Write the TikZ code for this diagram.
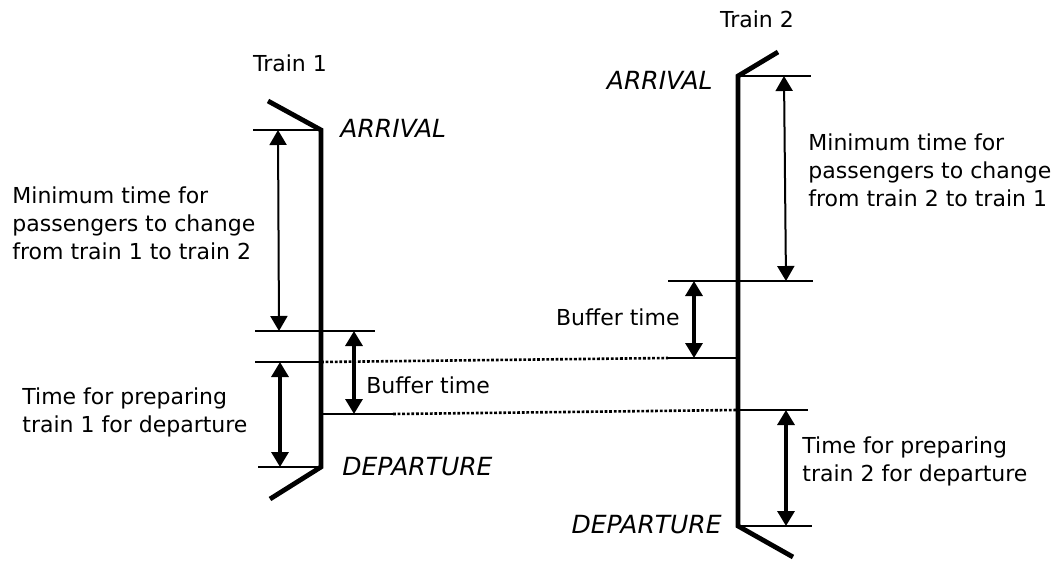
\documentclass[tikz,border=0pt]{standalone}
\usepackage{fontspec}
\setmainfont{DejaVu Sans}
\usetikzlibrary{arrows.meta}

\begin{document}
\begin{tikzpicture}[x=0.5pt,y=-0.5pt,
  train/.style={line width=2.4pt,line join=miter},
  level/.style={line width=1.3pt},
  gap/.style={line width=1.3pt,dash pattern=on 1.4pt off 0.9pt},
  span/.style={line width=1.6pt,{Triangle[width=8.5pt,length=7.5pt]}-{Triangle[width=8.5pt,length=7.5pt]}},
  thinspan/.style={span,line width=1pt},
  lbl/.style={font=\fontsize{11}{14}\selectfont,align=left,inner sep=0pt},
  ev/.style={font=\fontsize{12.5}{15}\selectfont\itshape,inner sep=0pt}]
\path[use as bounding box,fill=white] (0,0) rectangle (1062,562);
% train 1
\coordinate (t1in) at (268,101);
\coordinate (t1a) at (321,130);
\coordinate (t1d) at (321,467);
\coordinate (t1out) at (270,499);
\coordinate (t1aL) at (253,130);
\coordinate (t1cL) at (255,331);
\coordinate (t1cR) at (375,331);
\coordinate (t1rL) at (255,362);
\coordinate (t1r) at (321,362);
\coordinate (t1b) at (321,414);
\coordinate (t1bR) at (393,414);
\coordinate (t1dL) at (258,467);
% train 2
\coordinate (t2in) at (778,52);
\coordinate (t2a) at (738,76);
\coordinate (t2d) at (738,526);
\coordinate (t2out) at (793,557);
\coordinate (t2aR) at (811,76);
\coordinate (t2cL) at (668,281);
\coordinate (t2cR) at (813,281);
\coordinate (t2bL) at (668,358);
\coordinate (t2b) at (738,358);
\coordinate (t2r) at (738,410);
\coordinate (t2rR) at (808,410);
\coordinate (t2dR) at (812,526);
% arrow ends
\coordinate (m1a) at (278,130);
\coordinate (m1b) at (279,331);
\coordinate (p1a) at (280,362);
\coordinate (p1b) at (280,467);
\coordinate (b1a) at (354,331);
\coordinate (b1b) at (354,414);
\coordinate (m2a) at (784,76);
\coordinate (m2b) at (786,281);
\coordinate (b2a) at (694,281);
\coordinate (b2b) at (694,358);
\coordinate (p2a) at (786,410);
\coordinate (p2b) at (786,526);

\draw[train] (t1in) -- (t1a) -- (t1d) -- (t1out);
\draw[train] (t2in) -- (t2a) -- (t2d) -- (t2out);

\draw[level] (t1aL) -- (t1a);
\draw[level] (t1cL) -- (t1cR);
\draw[level] (t1rL) -- (t1r);
\draw[level] (t1b) -- (t1bR);
\draw[level] (t1dL) -- (t1d);
\draw[level] (t2a) -- (t2aR);
\draw[level] (t2cL) -- (t2cR);
\draw[level] (t2bL) -- (t2b);
\draw[level] (t2r) -- (t2rR);
\draw[level] (t2d) -- (t2dR);
\draw[gap] (t1r) -- (t2bL);
\draw[gap] (t1bR) -- (t2r);

\draw[thinspan] (m1a) -- (m1b);
\draw[span] (p1a) -- (p1b);
\draw[span] (b1a) -- (b1b);
\draw[thinspan] (m2a) -- (m2b);
\draw[span] (b2a) -- (b2b);
\draw[span] (p2a) -- (p2b);

\node[lbl] (tr1) at (290,63) {Train 1};
\node[lbl] (tr2) at (757,19) {Train 2};
\node[ev,anchor=west] (arr1) at (340,128) {ARRIVAL};
\node[ev,anchor=east] (arr2) at (713,80) {ARRIVAL};
\node[ev,anchor=west] (dep1) at (342,467) {DEPARTURE};
\node[ev,anchor=east] (dep2) at (722,525) {DEPARTURE};
\node[lbl,anchor=west] (min1) at (12,223) {Minimum time for\\passengers to change\\from train 1 to train 2};
\node[lbl,anchor=west] (min2) at (808,170) {Minimum time for\\passengers to change\\from train 2 to train 1};
\node[lbl,anchor=west] (prep1) at (22,412) {Time for preparing\\train 1 for departure};
\node[lbl,anchor=west] (prep2) at (802,461) {Time for preparing\\train 2 for departure};
\node[lbl,anchor=west] (buf1) at (366,385) {Buffer time};
\node[lbl,anchor=east] (buf2) at (680,317) {Buffer time};
\end{tikzpicture}
\end{document}
